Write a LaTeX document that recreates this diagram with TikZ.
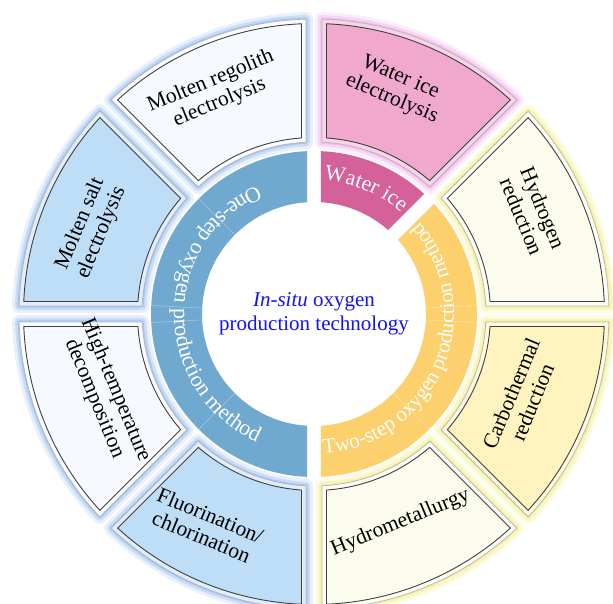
\documentclass[tikz,border=0pt]{standalone}
\usepackage{fontspec}
\setmainfont{Liberation Serif}
\usetikzlibrary{decorations.text}

\definecolor{onestep}{HTML}{6FA9CF}
\definecolor{watericering}{HTML}{D4619A}
\definecolor{twostep}{HTML}{FCD06C}
\definecolor{paleblue}{HTML}{F6FAFE}
\definecolor{lightblue}{HTML}{BEDDF6}
\definecolor{pinkseg}{HTML}{F0A9CD}
\definecolor{paleyellow}{HTML}{FCFCEE}
\definecolor{lightyellow}{HTML}{FFF3C0}
\definecolor{haloblue}{HTML}{8FB8F2}
\definecolor{halopink}{HTML}{F2A8EC}
\definecolor{haloyellow}{HTML}{F5EE80}
\definecolor{titleblue}{HTML}{1414EE}

% ring sector between two radii, straight sides shifted inwards by a half gap
\newcommand{\ringsector}[6][]{%
  \pgfmathsetmacro\aA{#2+asin(#6/#4)}%
  \pgfmathsetmacro\aB{#2+asin(#6/#5)}%
  \pgfmathsetmacro\aC{#3-asin(#6/#5)}%
  \pgfmathsetmacro\aD{#3-asin(#6/#4)}%
  \path[#1] (\aA:#4pt) -- (\aB:#5pt) arc[start angle=\aB, end angle=\aC, radius=#5pt]
    -- (\aD:#4pt) arc[start angle=\aD, end angle=\aA, radius=#4pt] -- cycle;
}

% framed outer box with a soft halo
\newcommand{\outerseg}[4]{%
  \ringsector[draw=#4, line width=14pt, opacity=.2, line join=round]{#1}{#2}{172}{295}{8}
  \ringsector[draw=#4, line width=8pt, opacity=.35, line join=round]{#1}{#2}{172}{295}{8}
  \ringsector[draw=#4, line width=3pt, opacity=.6, line join=round]{#1}{#2}{172}{295}{8}
  \ringsector[fill=#3!50!white, draw=gray!55, line width=.8pt]{#1}{#2}{172}{295}{8}
  \ringsector[fill=#3, draw=gray!50!black, line width=.9pt]{#1}{#2}{176.5}{290.5}{12.5}
}

\tikzset{
  seglabel/.style={align=center, text=black, font=\fontsize{21.5}{23}\selectfont},
  title/.style={align=center, text=titleblue, font=\fontsize{21}{24}\selectfont},
  divider/.style={white, opacity=.35, line width=.6pt}
}

\begin{document}
\begin{tikzpicture}[x=1pt, y=1pt]
  \useasboundingbox (-314,-289) rectangle (299,314);
  \clip (-314,-289) rectangle (299,314);
  \fill[white] (-314,-289) rectangle (299,314);

  % outer boxes
  \outerseg{90}{135}{paleblue}{haloblue}
  \outerseg{135}{180}{lightblue}{haloblue}
  \outerseg{180}{225}{paleblue}{haloblue}
  \outerseg{225}{270}{lightblue}{haloblue}
  \outerseg{270}{315}{paleyellow}{haloyellow}
  \outerseg{315}{360}{lightyellow}{haloyellow}
  \outerseg{0}{45}{paleyellow}{haloyellow}
  \outerseg{45}{90}{pinkseg}{halopink}

  % inner ring
  \ringsector[fill=onestep]{90}{270}{112}{163}{7}
  \ringsector[fill=watericering]{45}{90}{112}{163}{7}
  \ringsector[fill=twostep]{-90}{45}{112}{163}{7}
  \foreach \a in {135,177,183,225} \draw[divider] (\a:112) -- (\a:163);
  \foreach \a in {-45,-3,3} \draw[divider] (\a:112) -- (\a:163);

  % labels along the inner ring
  \path[decorate, decoration={text along path, text align=center,
      text={|\color{white}\fontsize{22}{22}\selectfont|One-step oxygen production method}}]
    (90:140pt) arc[start angle=90, end angle=270, radius=140pt];
  \path[decorate, decoration={text along path, text align=center,
      text={|\color{white}\fontsize{22}{22}\selectfont|Water ice}}]
    (90:134pt) arc[start angle=90, end angle=45, radius=134pt];
  \path[decorate, decoration={text along path, text align=center,
      text={|\color{white}\fontsize{21}{21}\selectfont|Two-step oxygen production method}}]
    (-90:140pt) arc[start angle=-90, end angle=45, radius=140pt];

  % centre
  \node[title] (centre) at (0,0) {\textit{In-situ} oxygen\\production technology};

  % outer labels
  \node[seglabel, rotate=22.5] (regolith) at (114:243) {Molten regolith\\electrolysis};
  \node[seglabel, rotate=67.5] (salt) at (159:239) {Molten salt\\electrolysis};
  \node[seglabel, rotate=-67.5] (hightemp) at (201:224) {High-temperature\\decomposition};
  \node[seglabel, rotate=-22.5] (fluor) at (243:238) {Fluorination/\\chlorination};
  \node[seglabel, rotate=22.5] (hydromet) at (-67.5:226) {Hydrometallurgy};
  \node[seglabel, rotate=67.5] (carbo) at (-22:224) {Carbothermal\\reduction};
  \node[seglabel, rotate=-67.5] (hydrogen) at (25:241) {Hydrogen\\reduction};
  \node[seglabel, rotate=-22.5] (waterel) at (70:240) {Water ice\\electrolysis};
\end{tikzpicture}
\end{document}
